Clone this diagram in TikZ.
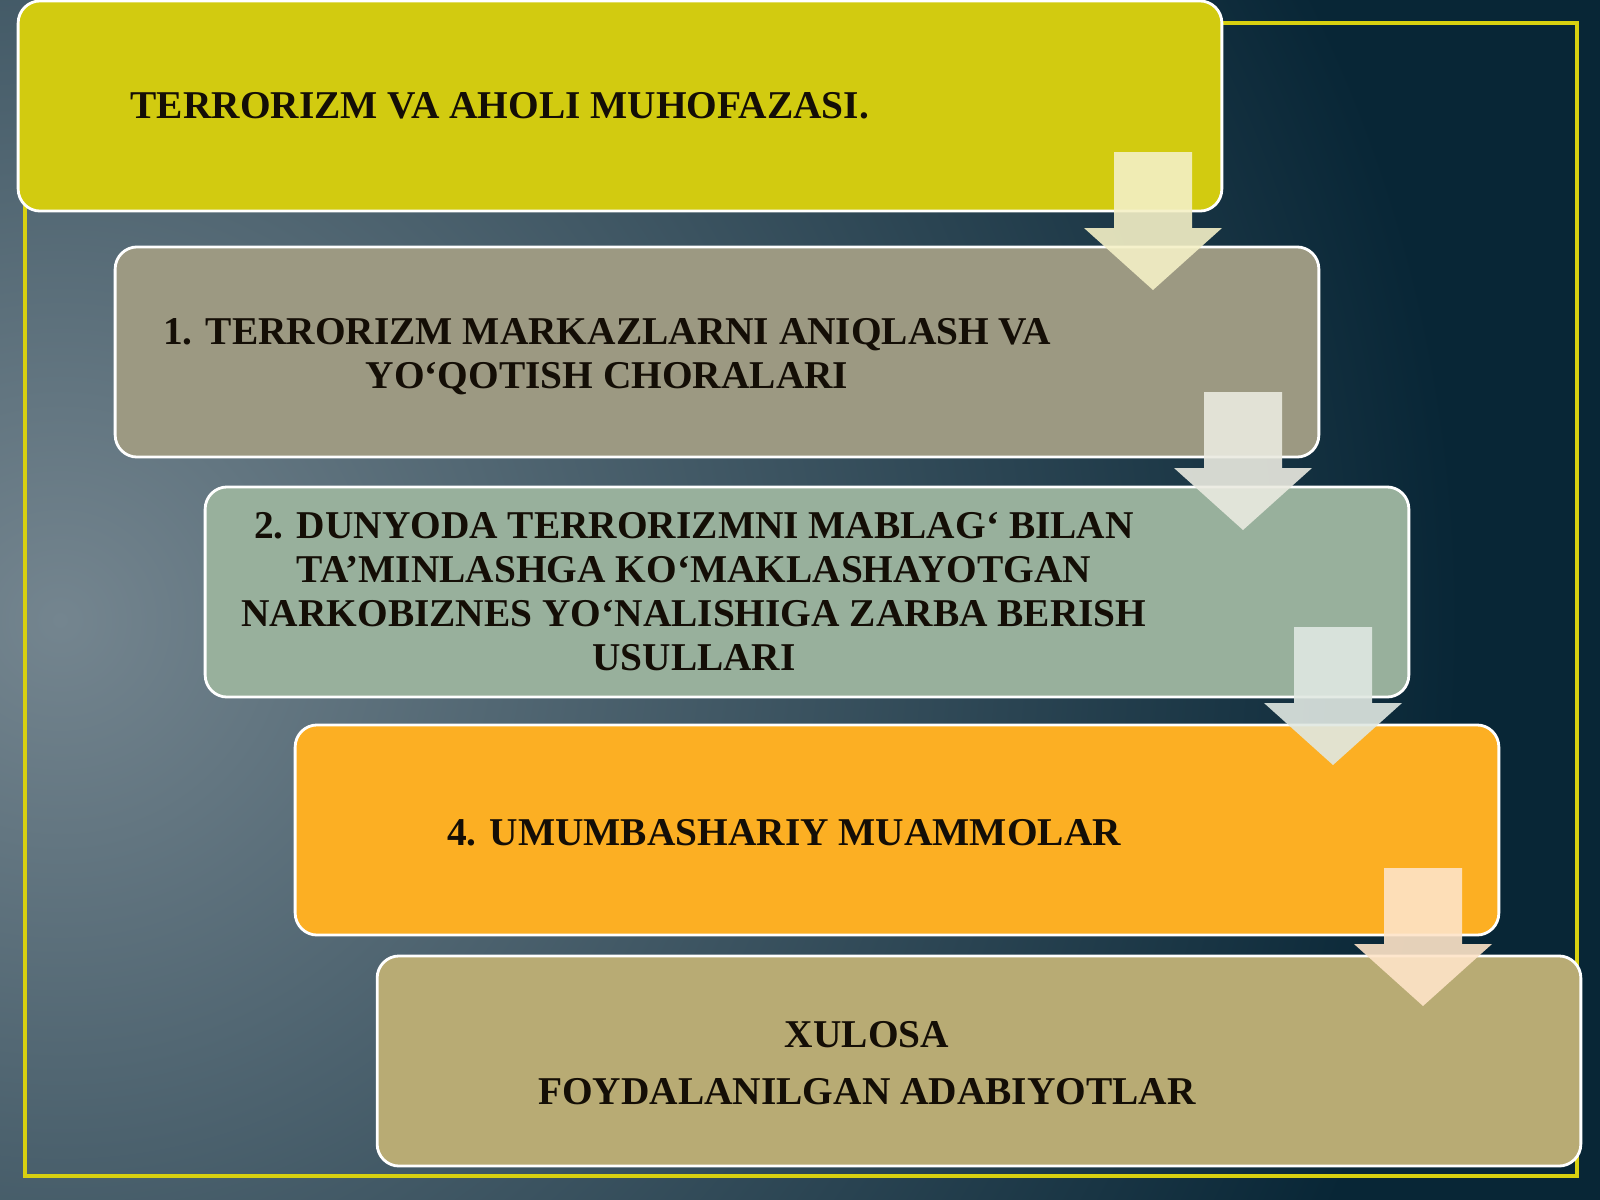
\documentclass[tikz,border=0pt]{standalone}
\usepackage{fontspec}
\setmainfont{Liberation Serif}
\usepackage{xcolor}
\usepackage{tikz}
\usetikzlibrary{positioning}

\definecolor{bgdark}{HTML}{082636}
\definecolor{bglight}{HTML}{74858F}
\definecolor{framey}{HTML}{D8D010}
\definecolor{boxa}{HTML}{D2CB10}
\definecolor{boxb}{HTML}{9C9982}
\definecolor{boxc}{HTML}{98B09C}
\definecolor{boxd}{HTML}{FCAF23}
\definecolor{boxe}{HTML}{B8AB74}
\definecolor{arra}{HTML}{F4F0C6}
\definecolor{arrb}{HTML}{EAEAE0}
\definecolor{arrc}{HTML}{E0E8E2}
\definecolor{arrd}{HTML}{FEE4C8}
\definecolor{ink}{HTML}{140E06}

\begin{document}
\begin{tikzpicture}[x=0.01cm,y=-0.01cm,
	box/.style={draw=white,line width=0.8pt,rounded corners=0.22cm,minimum width=12.03cm,minimum height=2.1cm,inner sep=0pt},
	lbl/.style={text=ink,font=\fontsize{11.2}{12.5}\selectfont\bfseries,align=center,inner sep=0pt}]
	\useasboundingbox (0,0) rectangle (1600,1200);
	% background
	\fill[bgdark] (0,0) rectangle (1600,1200);
	\begin{scope}
		\clip (0,0) rectangle (1600,1200);
		\shade[inner color=bglight,outer color=bgdark] (60,620) circle (14cm);
	\end{scope}
	\draw[framey,line width=1.1pt] (25,23) rectangle (1577,1176);
	% boxes
	\node[box,fill=boxa] (b0) at (620,106) {};
	\node[box,fill=boxb] (b1) at (717,352) {};
	\node[box,fill=boxc] (b2) at (807,592) {};
	\node[box,fill=boxd] (b3) at (897,830) {};
	\node[box,fill=boxe] (b4) at (979,1061) {};
	% arrows
	\foreach \cx/\ty/\col in {1153/152/arra,1243/392/arrb,1333/627/arrc,1423/868/arrd}{
		\fill[\col,opacity=0.9] (\cx-39,\ty) -- (\cx+39,\ty) -- (\cx+39,\ty+76) -- (\cx+69,\ty+76)
			-- (\cx,\ty+138) -- (\cx-69,\ty+76) -- (\cx-39,\ty+76) -- cycle;
	}
	% texts
	\node[lbl,anchor=west] (t0) at (130,106) {TERRORIZM VA AHOLI MUHOFAZASI.};
	\node[lbl] (t1) at (607,357) {1. TERRORIZM MARKAZLARNI ANIQLASH VA\\YO‘QOTISH CHORALARI};
	\node[lbl] (t2) at (694,592) {2. DUNYODA TERRORIZMNI MABLAG‘ BILAN\\TA’MINLASHGA KO‘MAKLASHAYOTGAN\\NARKOBIZNES YO‘NALISHIGA ZARBA BERISH\\USULLARI};
	\node[lbl] (t3) at (784,833) {4. UMUMBASHARIY MUAMMOLAR};
	\node[lbl] (t4) at (867,1063) {XULOSA\\[3.6pt]FOYDALANILGAN ADABIYOTLAR};
\end{tikzpicture}
\end{document}
